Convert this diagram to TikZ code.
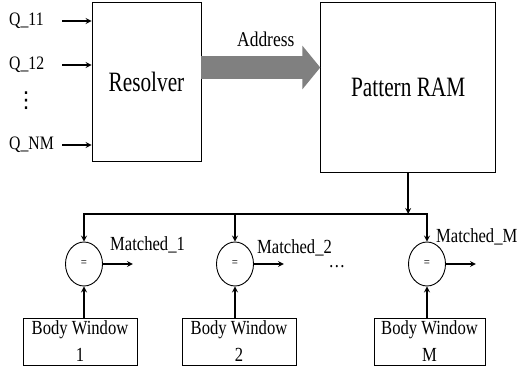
\documentclass[tikz,border=0pt]{standalone}
\usepackage{fontspec}
\setmainfont[FakeStretch=0.83]{Liberation Serif}
\newfontfamily\bigserif[FakeStretch=0.76]{Liberation Serif}
\newfontfamily\dotsfont{DejaVu Sans}
\usepackage{tikz}
\usetikzlibrary{arrows,arrows.meta,shapes,positioning}
\usepackage{xcolor}
\definecolor{addrgray}{RGB}{128,128,128}
\tikzstyle{arrow} = [line width=1.6pt,->,>=stealth]
\tikzstyle{block} = [rectangle, draw, line width=0.9pt, inner sep=0pt]
\tikzstyle{bigtext} = [font=\bigserif\fontsize{28}{30}\selectfont]
\tikzstyle{cmp} = [ellipse, draw, line width=0.9pt, minimum width=37pt, minimum height=44pt, inner sep=0pt, font=\fontsize{13}{15}\selectfont]
\tikzstyle{lbl} = [inner sep=0pt, anchor=base west, font=\fontsize{20}{24}\selectfont]
\tikzstyle{window} = [block, minimum width=114pt, minimum height=47pt, align=center, font=\fontsize{20}{27}\selectfont]

\begin{document}
\begin{tikzpicture}[x=1pt,y=-1pt]
\useasboundingbox (0,0) rectangle (518,366);
% resolver and pattern memory
\node (resolver) [block, bigtext, minimum width=109pt, minimum height=159pt] at (146.5,81.5) {Resolver};
\node (ram) [block, bigtext, minimum width=175pt, minimum height=170pt] at (408.2,87) {Pattern RAM};

\coordinate (addrlevel) at (0,67.5);
\draw[addrgray, line width=23pt, -{Triangle[length=18pt,width=43pt]}] (resolver.east |- addrlevel) -- (ram.west |- addrlevel);
\node (addr) [lbl, font=\fontsize{21}{24}\selectfont] at (237,47) {Address};

% inputs
\foreach \lab/\y [count=\i] in {Q\_11/21, Q\_12/65, Q\_NM/145} {
  \node (q\i) [lbl, font=\fontsize{19}{22}\selectfont] at (9,\y+4.5) {\lab};
  \coordinate (qs\i) at (62,\y);
  \draw[arrow] (qs\i) -- (resolver.west |- qs\i);
}
\node (qdots) [inner sep=0pt, font=\dotsfont\fontsize{22}{24}\selectfont] at (26,101) {⋮};

% comparators
\node (eq1) [cmp] at (84,264) {=};
\node (eq2) [cmp] at (235,264) {=};
\node (eqM) [cmp] at (427,264) {=};

\node (win1) [window] at (80,341.5) {Body Window\\1};
\node (win2) [window] at (239,341.5) {Body Window\\2};
\node (winM) [window, minimum width=111pt] at (429.5,341.5) {Body Window\\M};

\coordinate (bus) at (0,214);
\draw[arrow] (ram.south) -- (ram.south |- bus);
\draw[arrow] (eqM |- bus) -| (eq1.north);
\draw[arrow] (eq1 |- bus) -| (eqM.north);
\draw[arrow] (eq2 |- bus) -- (eq2.north);

\foreach \k in {1,2,M} {
  \draw[arrow] (win\k.north -| eq\k) -- (eq\k.south);
  \path (eq\k.east) ++(30,0) coordinate (out\k);
  \draw[arrow] (eq\k.east) -- (out\k);
}

\node (m1) [lbl] at (110,250) {Matched\_1};
\node (m2) [lbl] at (257,253) {Matched\_2};
\node (mM) [lbl] at (436,242) {Matched\_M};
\node (mdots) [lbl, anchor=base] at (337,267) {\dots};
\end{tikzpicture}
\end{document}
